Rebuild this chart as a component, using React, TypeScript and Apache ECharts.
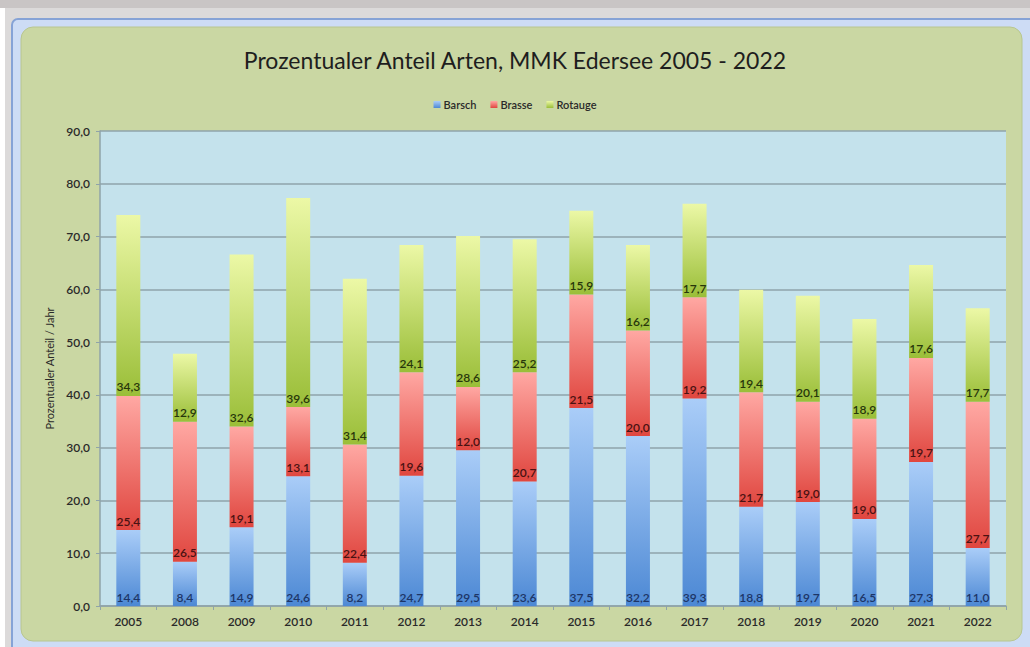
import React, { useEffect, useRef } from "react";
import * as echarts from "echarts";

const years = ["2005", "2008", "2009", "2010", "2011", "2012", "2013", "2014", "2015", "2016", "2017", "2018", "2019", "2020", "2021", "2022"];
const barsch = [14.4, 8.4, 14.9, 24.6, 8.2, 24.7, 29.5, 23.6, 37.5, 32.2, 39.3, 18.8, 19.7, 16.5, 27.3, 11.0];
const brasse = [25.4, 26.5, 19.1, 13.1, 22.4, 19.6, 12.0, 20.7, 21.5, 20.0, 19.2, 21.7, 19.0, 19.0, 19.7, 27.7];
const rotauge = [34.3, 12.9, 32.6, 39.6, 31.4, 24.1, 28.6, 25.2, 15.9, 16.2, 17.7, 19.4, 20.1, 18.9, 17.6, 17.7];

const FONT = "Lato, 'Open Sans', sans-serif";
const fmt = (v: number) => v.toFixed(1).replace(".", ",");

const grad = (top: string, bottom: string) =>
  new echarts.graphic.LinearGradient(0, 0, 0, 1, [
    { offset: 0, color: top },
    { offset: 1, color: bottom },
  ]);

export default function App() {
  const ref = useRef<HTMLDivElement>(null);
  useEffect(() => {
    if (!ref.current) return;
    const chart = echarts.init(ref.current, null, { renderer: "svg" });
    const mkSeries = (name: string, data: number[], top: string, bottom: string, labelColor: string) => ({
      name,
      type: "bar",
      stack: "total",
      data,
      barWidth: 24,
      itemStyle: { color: grad(top, bottom) },
      label: {
        show: true,
        position: "insideBottom",
        distance: 3,
        formatter: (p: any) => fmt(p.value),
        color: labelColor,
        fontFamily: FONT,
        fontSize: 12,
        fontWeight: 600,
      },
    });
    chart.setOption({
      animation: false,
      backgroundColor: "#ffffff",
      graphic: [
        { type: "rect", z: -10, shape: { x: 0, y: 0, width: 1030, height: 647 }, style: { fill: "#dcdada" } },
        { type: "rect", z: -10, shape: { x: 0, y: 0, width: 1030, height: 8 }, style: { fill: "#c9c5c5" } },
        { type: "rect", z: -10, shape: { x: 0, y: 8, width: 5, height: 639 }, style: { fill: "#ffffff" } },
        { type: "rect", z: -9, shape: { x: 12, y: 19, width: 1030, height: 640, r: 6 }, style: { fill: "#cddcf5", stroke: "#86a3d6", lineWidth: 2 } },
        { type: "rect", z: -8, shape: { x: 21, y: 27, width: 1001, height: 614, r: 12 }, style: { fill: "#cad7a3", stroke: "#b8c690", lineWidth: 1 } },
      ],
      title: {
        text: "Prozentualer Anteil Arten, MMK Edersee 2005 - 2022",
        left: "center",
        top: 43,
        textStyle: { fontFamily: FONT, fontSize: 23, fontWeight: "normal", color: "#1e1e1e" },
      },
      legend: {
        top: 94,
        left: "center",
        itemWidth: 7,
        itemHeight: 7,
        itemGap: 14,
        icon: "rect",
        textStyle: { fontFamily: FONT, fontSize: 11, fontWeight: 600, color: "#2a2a2a", padding: [0, 0, 0, -2] },
        data: ["Barsch", "Brasse", "Rotauge"],
      },
      grid: { left: 100, right: 24, top: 131, bottom: 41, show: true, backgroundColor: "#c4e2ec", borderWidth: 0 },
      xAxis: {
        type: "category",
        data: years,
        axisLine: { lineStyle: { color: "#8fa3a8", width: 1.5 } },
        axisTick: { show: true, length: 4, lineStyle: { color: "#8fa3a8" } },
        axisLabel: { fontFamily: FONT, fontSize: 12, fontWeight: 600, color: "#2a2a2a", margin: 9 },
      },
      yAxis: {
        type: "value",
        min: 0,
        max: 90,
        interval: 10,
        name: "Prozentualer Anteil / Jahr",
        nameLocation: "middle",
        nameGap: 45,
        nameTextStyle: { fontFamily: FONT, fontSize: 11, color: "#2a2a2a" },
        axisLine: { show: true, lineStyle: { color: "#8fa3a8", width: 1.5 } },
        axisTick: { show: true, length: 4, lineStyle: { color: "#8fa3a8" } },
        splitLine: { lineStyle: { color: "#8fa3ab", width: 1.5 } },
        axisLabel: { fontFamily: FONT, fontSize: 12, fontWeight: 600, color: "#2a2a2a", margin: 10, formatter: (v: number) => fmt(v) },
      },
      series: [
        mkSeries("Barsch", barsch, "#aacdf8", "#4c88d4", "#1d3566"),
        mkSeries("Brasse", brasse, "#ffa8a3", "#e0463f", "#4a1212"),
        mkSeries("Rotauge", rotauge, "#ecf8a6", "#9abe38", "#27360b"),
      ],
    });
    return () => chart.dispose();
  }, []);
  return <div ref={ref} style={{ position: "fixed", left: 0, top: 0, width: 1030, height: 647 }} />;
}
